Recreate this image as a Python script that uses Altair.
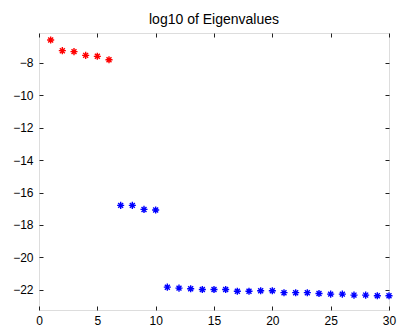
import altair as alt
import pandas as pd

idx = list(range(1, 31))
log_eig = [-6.58, -7.24, -7.30, -7.53, -7.59, -7.80,
           -16.79, -16.79, -17.04, -17.08,
           -21.84, -21.90, -21.94, -21.98, -21.98, -21.98, -22.09, -22.09, -22.06, -22.06,
           -22.18, -22.18, -22.18, -22.23, -22.27, -22.27, -22.33, -22.33, -22.37, -22.37]
group = ["large"] * 6 + ["small"] * 24

df = pd.DataFrame({"i": idx, "v": log_eig, "g": group})

x_ticks = [0, 5, 10, 15, 20, 25, 30]
y_ticks = [-8, -10, -12, -14, -16, -18, -20, -22]
FONT = "Liberation Sans"
AX = "#222222"

xs = alt.Scale(domain=[0, 30], nice=False, zero=False)
ys = alt.Scale(domain=[-23.25, -6.15], nice=False, zero=False)

star = "M0,-1L0,1M-1,0L1,0M-0.7,-0.7L0.7,0.7M-0.7,0.7L0.7,-0.7"

common_ax = dict(domain=False, grid=False, tickSize=4, offset=-4, tickColor=AX,
                 tickWidth=1, labelFont=FONT, labelFontSize=12, labelColor="#000000",
                 title=None)

pts = alt.Chart(df).mark_point(shape=star, filled=False, size=50, strokeWidth=1.4, opacity=1).encode(
    x=alt.X("i:Q", scale=xs, axis=alt.Axis(values=x_ticks, orient="bottom", labelPadding=5,
                                           labelFlush=False, **common_ax)),
    y=alt.Y("v:Q", scale=ys, axis=alt.Axis(values=y_ticks, orient="left", labelPadding=6,
                                           labelFlush=False, **common_ax)),
    color=alt.Color("g:N", scale=alt.Scale(domain=["large", "small"], range=["#ff0000", "#0000ff"]),
                    legend=None),
)

frame_ax = dict(domain=False, grid=False, tickSize=4, offset=-4, tickColor=AX, tickWidth=1,
                labels=False, title=None)

ticks2 = alt.Chart(df).mark_point(opacity=0).encode(
    x=alt.X("i:Q", scale=xs, axis=alt.Axis(values=x_ticks, orient="top", **frame_ax)),
    y=alt.Y("v:Q", scale=ys, axis=alt.Axis(values=y_ticks, orient="right", **frame_ax)),
)

chart = alt.layer(pts, ticks2).resolve_axis(x="independent", y="independent").properties(
    width=350, height=277,
    title=alt.TitleParams("log10 of Eigenvalues", font=FONT, fontSize=14, fontWeight="normal",
                          color="#000000", offset=6, anchor="middle"),
    autosize=alt.AutoSizeParams(type="none"),
    padding={"left": 39, "top": 33, "right": 9, "bottom": 23},
).configure_view(stroke=AX, strokeWidth=1).configure(background="white")

chart.save("out.html", embed_options={"renderer": "svg", "actions": False})
